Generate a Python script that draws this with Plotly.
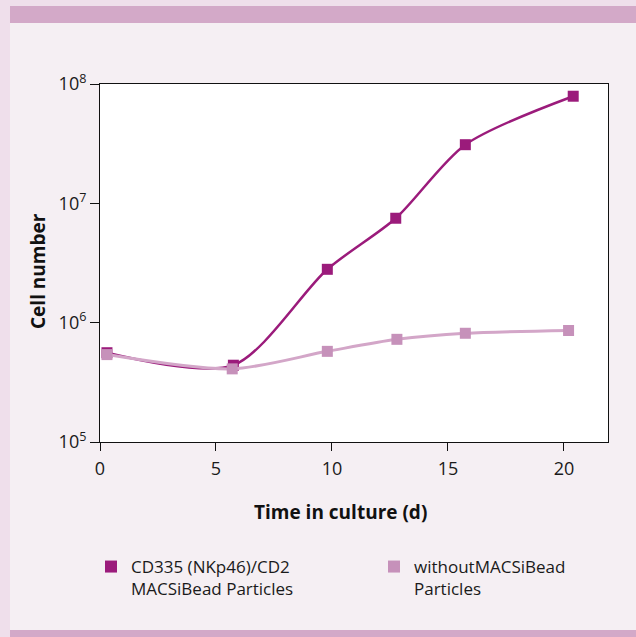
import plotly.graph_objects as go

# Data
days_beads = [0.3, 5.75, 9.8, 12.75, 15.75, 20.4]
cells_beads = [5.6e5, 4.4e5, 2.8e6, 7.5e6, 3.1e7, 7.9e7]
days_none = [0.3, 5.7, 9.8, 12.8, 15.75, 20.2]
cells_none = [5.4e5, 4.1e5, 5.75e5, 7.25e5, 8.15e5, 8.6e5]

x_ticks = [0, 5, 10, 15, 20]
y_ticks = [1e5, 1e6, 1e7, 1e8]
y_ticktext = ["10<sup>5</sup>", "10<sup>6</sup>", "10<sup>7</sup>", "10<sup>8</sup>"]

name_beads = "CD335 (NKp46)/CD2<br>MACSiBead Particles"
name_none = "withoutMACSiBead<br>Particles"

DARK = "#9b1b7b"
LIGHT_M = "#c691ba"
LIGHT_L = "#d3a6c8"
FONT = "Open Sans"

W, H = 636, 637
L, R, T, B = 100, 28, 84, 195
PW, PH = W - L - R, H - T - B


def px(x):
    return (x - L) / PW


def py(y):
    return (H - B - y) / PH


fig = go.Figure()
fig.add_trace(go.Scatter(
    x=days_beads, y=cells_beads, mode="lines+markers", showlegend=False,
    line=dict(color=DARK, width=2.5, shape="spline", smoothing=0.8),
    marker=dict(symbol="square", size=11, color=DARK),
))
fig.add_trace(go.Scatter(
    x=days_none, y=cells_none, mode="lines+markers", showlegend=False,
    line=dict(color=LIGHT_L, width=3, shape="spline", smoothing=0.8),
    marker=dict(symbol="square", size=11, color=LIGHT_M),
))
# legend-only entries
fig.add_trace(go.Scatter(x=[None], y=[None], mode="markers", name=name_beads,
                         legend="legend",
                         marker=dict(symbol="square", size=13, color=DARK)))
fig.add_trace(go.Scatter(x=[None], y=[None], mode="markers", name=name_none,
                         legend="legend2",
                         marker=dict(symbol="square", size=13, color=LIGHT_M)))

shapes = [
    dict(type="rect", xref="paper", yref="paper", x0=px(0), x1=px(10), y0=py(H), y1=py(0),
         fillcolor="#efdfeb", line_width=0, layer="below"),
    dict(type="rect", xref="paper", yref="paper", x0=px(0), x1=px(W), y0=py(6), y1=py(0),
         fillcolor="#efdfeb", line_width=0, layer="below"),
    dict(type="rect", xref="paper", yref="paper", x0=px(10), x1=px(W), y0=py(23), y1=py(6),
         fillcolor="#d3a9c8", line_width=0, layer="below"),
    dict(type="rect", xref="paper", yref="paper", x0=px(10), x1=px(W), y0=py(H), y1=py(630),
         fillcolor="#d3a9c8", line_width=0, layer="below"),
]

legend_common = dict(
    xanchor="left", yanchor="top", bgcolor="rgba(0,0,0,0)",
    font=dict(family=FONT, size=17, color="#1a1a1a"),
    itemsizing="constant", valign="top",
)

fig.update_layout(
    width=W, height=H,
    margin=dict(l=L, r=R, t=T, b=B),
    paper_bgcolor="#f5eff3",
    plot_bgcolor="white",
    font=dict(family=FONT, size=16, color="#1a1a1a"),
    shapes=shapes,
    showlegend=True,
    legend=dict(x=px(91), y=py(549), **legend_common),
    legend2=dict(x=px(374), y=py(549), **legend_common),
    annotations=[
        dict(text="<b>Time in culture (d)</b>", xref="paper", yref="paper",
             x=px(340), y=py(512), xanchor="center", yanchor="middle",
             showarrow=False, font=dict(family=FONT, size=19, color="#111")),
        dict(text="<b>Cell number</b>", xref="paper", yref="paper",
             x=px(38), y=py(271), xanchor="center", yanchor="middle", textangle=-90,
             showarrow=False, font=dict(family=FONT, size=19, color="#111")),
    ],
    xaxis=dict(
        range=[0, 21.9], tickvals=x_ticks, showgrid=False, zeroline=False,
        showline=True, linecolor="#111", linewidth=1, mirror=True,
        ticks="outside", ticklen=8, tickcolor="#111",
        tickfont=dict(size=18), ticklabelstandoff=2,
    ),
    yaxis=dict(
        type="log", range=[5, 8], tickvals=y_ticks, ticktext=y_ticktext,
        showgrid=False, zeroline=False,
        showline=True, linecolor="#111", linewidth=1, mirror=True,
        ticks="outside", ticklen=9, tickcolor="#111",
        tickfont=dict(size=18),
    ),
)

fig.write_html("out.html", config={"displayModeBar": False},
               post_script="document.body.style.margin='0px';")
